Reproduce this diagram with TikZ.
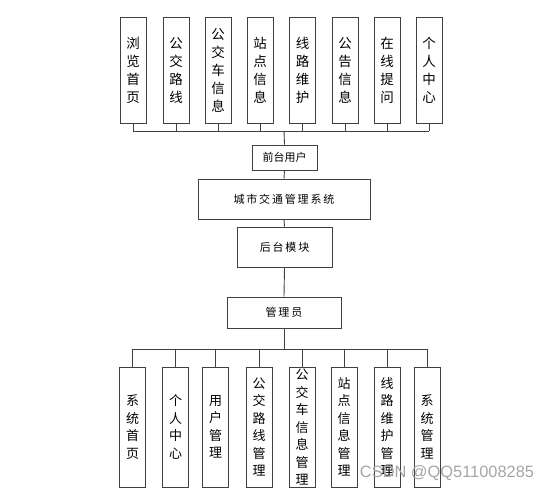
\documentclass[tikz,border=0pt]{standalone}
\usepackage{fontspec}
\newfontfamily\cjk{Noto Sans CJK SC}
\setmainfont{Liberation Sans}
\begin{document}
\begin{tikzpicture}[x=1pt,y=-1pt,
  boxline/.style={draw=black!75,line width=0.9pt,fill=white},
  vbox/.style={boxline,minimum width=26pt,inner sep=0pt,align=center,
    font=\cjk\fontsize{13.5}{18}\selectfont},
  tbox/.style={vbox,minimum height=106pt},
  bbox/.style={vbox,minimum height=120pt,font=\cjk\fontsize{13}{17.5}\selectfont},
  hbox/.style={boxline,inner sep=0pt,font=\cjk\fontsize{11}{13}\selectfont},
  conn/.style={draw=black!75,line width=0.9pt}]
\useasboundingbox (0,0) rectangle (550,492);
% top row
\node[tbox] (t1) at (133,70) {浏\\览\\首\\页};
\node[tbox] (t2) at (176,70) {公\\交\\路\\线};
\node[tbox] (t3) at (218,70) {公\\交\\车\\信\\息};
\node[tbox] (t4) at (260,70) {站\\点\\信\\息};
\node[tbox] (t5) at (302.5,70) {线\\路\\维\\护};
\node[tbox] (t6) at (345,70) {公\\告\\信\\息};
\node[tbox] (t7) at (387,70) {在\\线\\提\\问};
\node[tbox] (t8) at (429,70) {个\\人\\中\\心};
% middle
\node[hbox,minimum width=65pt,minimum height=25pt] (fe) at (284.5,157.5) {前台用户};
\node[hbox,minimum width=172pt,minimum height=40pt] (sys) at (284,199) {城\,市\,交\,通\,管\,理\,系\,统};
\node[hbox,minimum width=95pt,minimum height=40pt] (be) at (284.5,247) {后\,台\,模\,块};
\node[hbox,minimum width=114pt,minimum height=31pt] (adm) at (284,312.5) {管\,理\,员};
% bottom row
\node[bbox] (b1) at (132.5,427) {系\\统\\首\\页};
\node[bbox] (b2) at (175.5,427) {个\\人\\中\\心};
\node[bbox] (b3) at (215.5,427) {用\\户\\管\\理};
\node[bbox] (b4) at (259,427) {公\\交\\路\\线\\管\\理};
\node[bbox] (b5) at (302,427) {公\\交\\车\\信\\息\\管\\理};
\node[bbox] (b6) at (344,427) {站\\点\\信\\息\\管\\理};
\node[bbox] (b7) at (387,427) {线\\路\\维\\护\\管\\理};
\node[bbox] (b8) at (427,427) {系\\统\\管\\理};
% connectors
\coordinate (busT) at (284,131);
\coordinate (busB) at (284,349);
\foreach \i in {1,...,8} {
  \draw[conn] (t\i.south) -- (t\i.south |- busT);
  \draw[conn] (b\i.north) -- (b\i.north |- busB);
}
\draw[conn] (t1.south |- busT) -- (t8.south |- busT);
\draw[conn] (b1.north |- busB) -- (b8.north |- busB);
\draw[conn] (busT) -- (fe.north);
\draw[conn] (fe.south) -- (sys.north);
\draw[conn] (sys.south) -- (be.north);
\draw[conn] (be.south) -- (adm.north);
\draw[conn] (adm.south) -- (busB);
% watermark
\node[text=black!35,font=\fontsize{16.4}{18}\selectfont,inner sep=0pt] (wm) at (447,473) {CSDN @QQ511008285};
\end{tikzpicture}
\end{document}
